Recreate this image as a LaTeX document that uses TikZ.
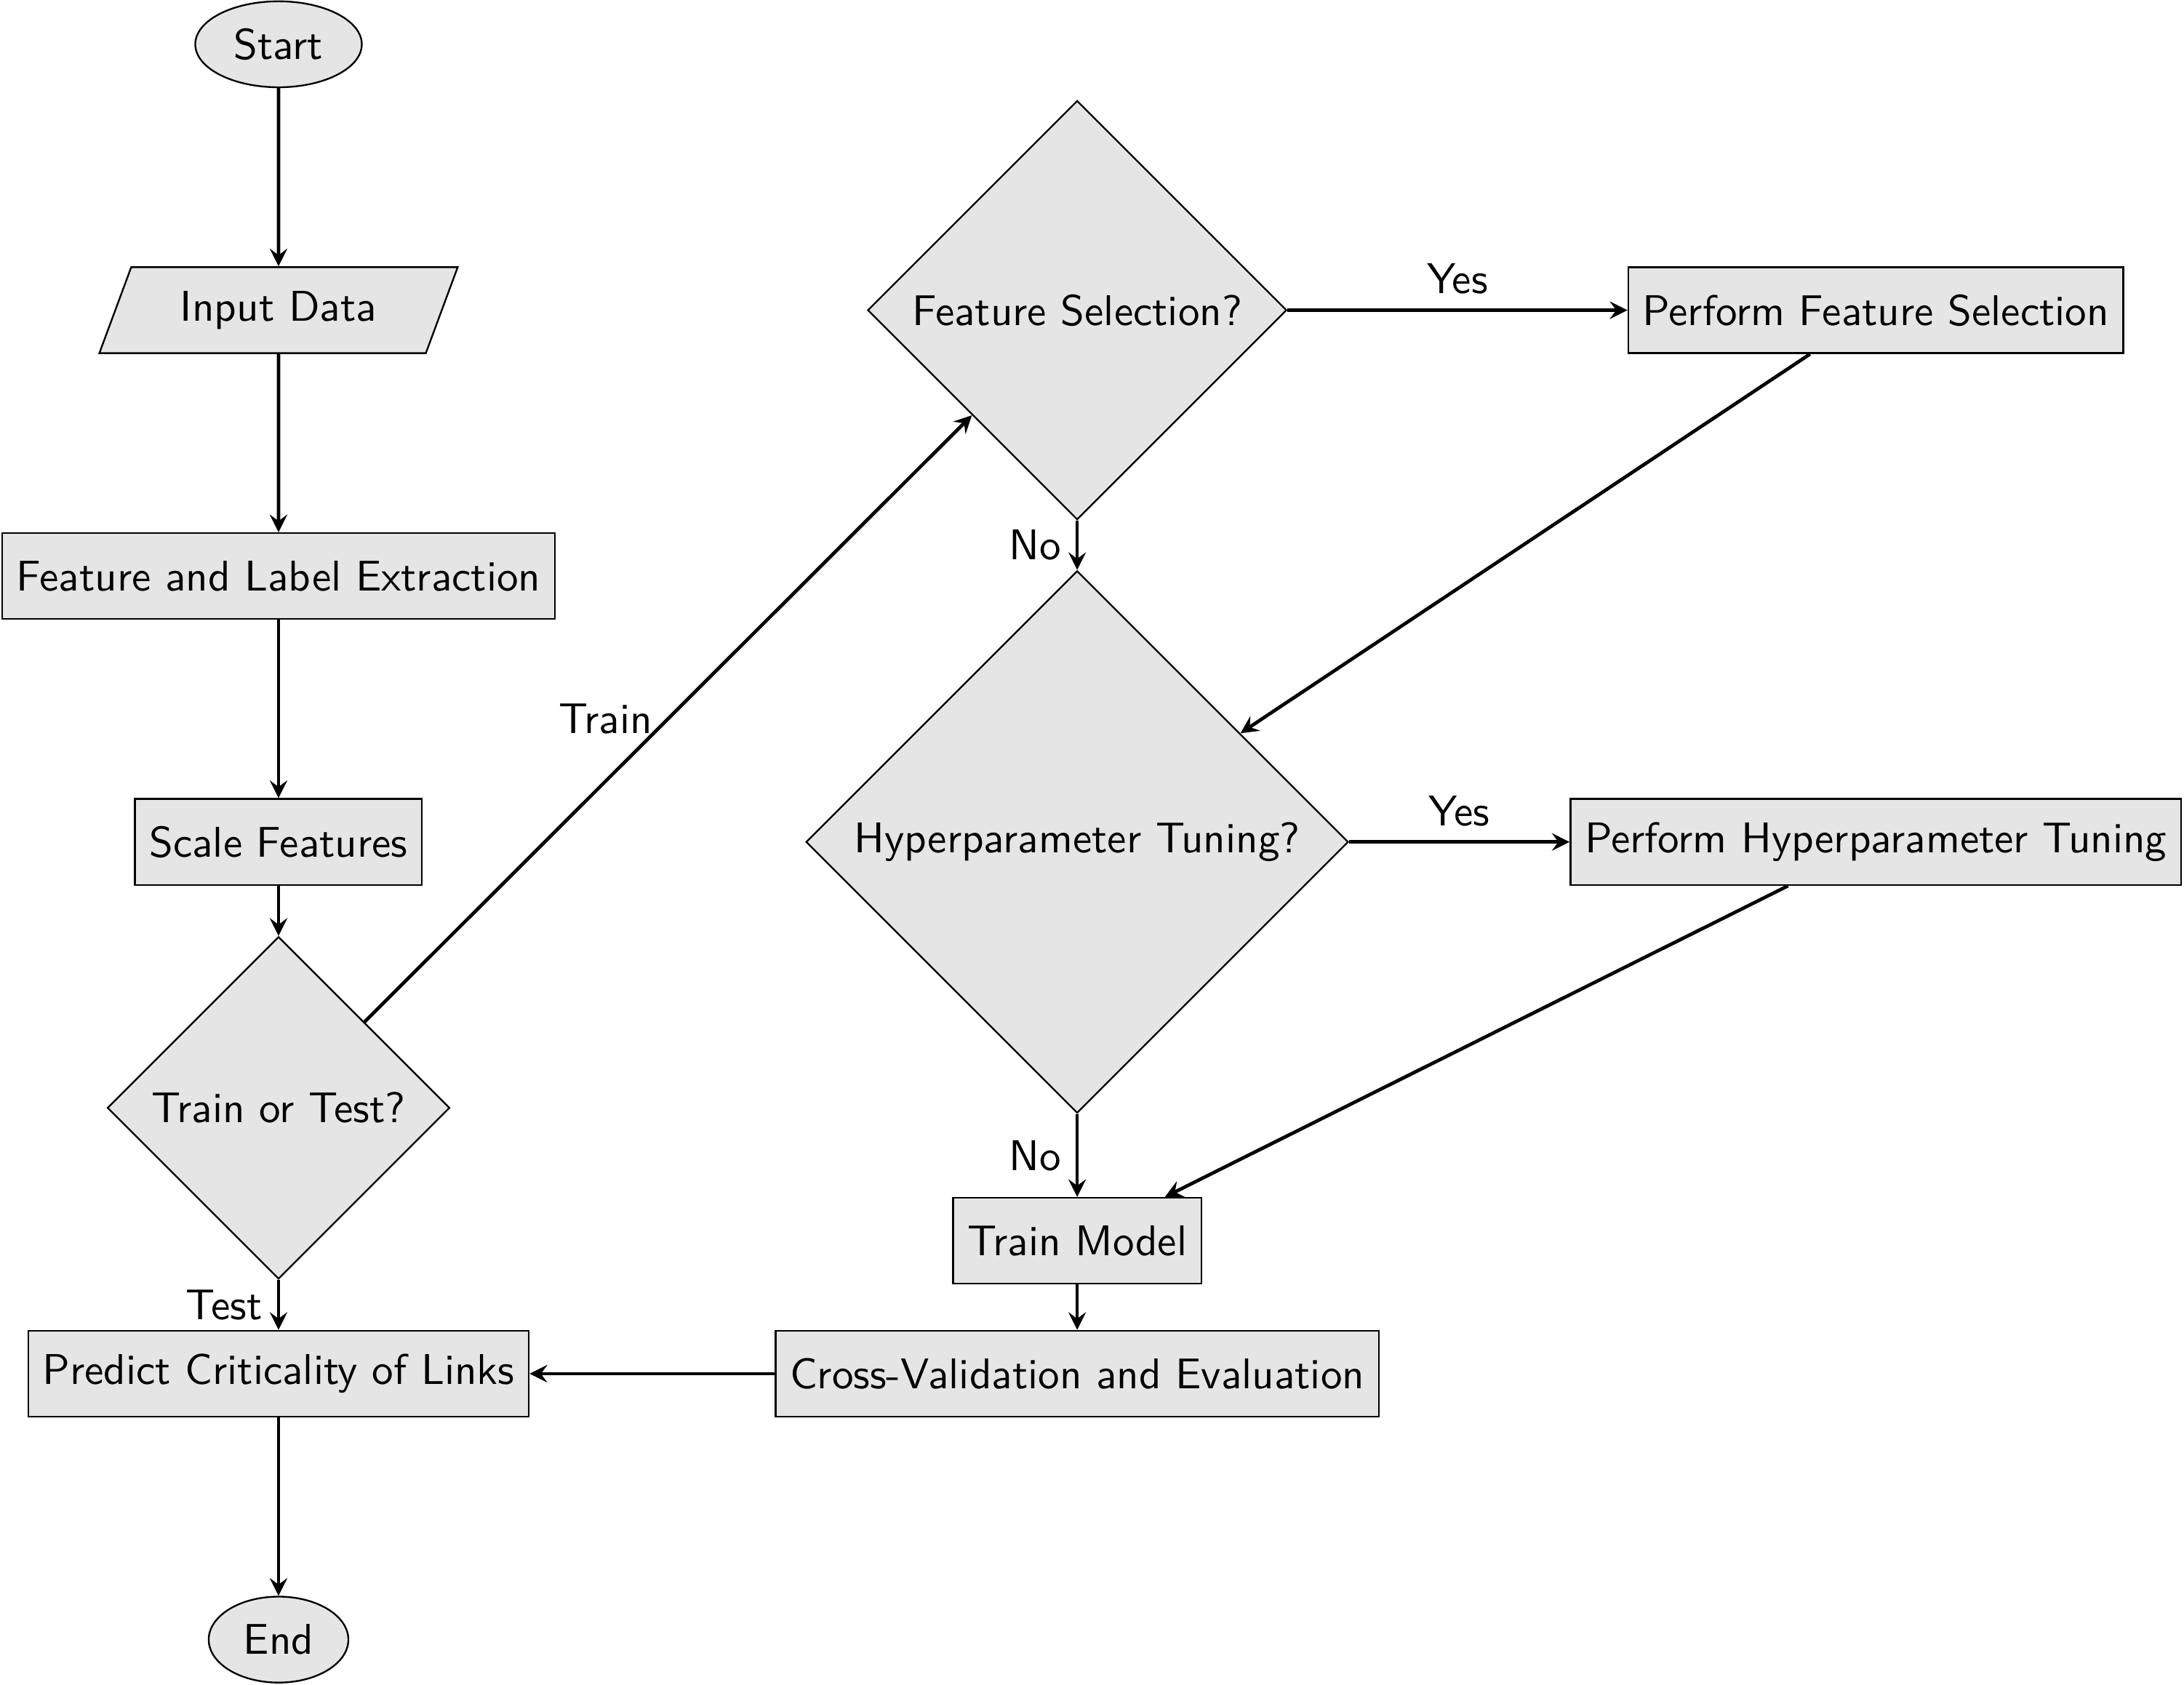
\documentclass[tikz,border=0pt]{standalone}
\usepackage{xcolor}
\usepackage{tikz}
\usetikzlibrary{shapes.geometric}

\begin{document}
\begin{tikzpicture}[x=185.8pt,y=-61.86pt,
	every node/.style={font=\sffamily},
	block/.style={rectangle,draw,fill=gray!20,minimum height=2em},
	term/.style={ellipse,draw,fill=gray!20,minimum height=2em},
	io/.style={trapezium,trapezium left angle=70,trapezium right angle=110,trapezium stretches=true,draw,fill=gray!20,minimum width=83.4pt,minimum height=2em},
	decision/.style={diamond,draw,fill=gray!20,aspect=1},
	line/.style={draw,thick,-stealth}]
	\useasboundingbox (-64.8pt,10.3pt) rectangle (443.3pt,-381.6pt);
	\node[term] (start) at (0,0) {Start};
	\node[io] (input) at (0,1) {Input Data};
	\node[block] (extract) at (0,2) {Feature and Label Extraction};
	\node[block] (scale) at (0,3) {Scale Features};
	\node[decision] (traintest) at (0,4) {Train or Test?};
	\node[block] (predict) at (0,5) {Predict Criticality of Links};
	\node[term] (end) at (0,6) {End};
	\node[decision] (featsel) at (1,1) {Feature Selection?};
	\node[block] (dofeatsel) at (2,1) {Perform Feature Selection};
	\node[decision] (hyper) at (1,3) {Hyperparameter Tuning?};
	\node[block] (dohyper) at (2,3) {Perform Hyperparameter Tuning};
	\node[block] (trainmodel) at (1,4.5) {Train Model};
	\node[block] (crossval) at (1,5) {Cross-Validation and Evaluation};
	\draw[line] (start) -- (input);
	\draw[line] (input) -- (extract);
	\draw[line] (extract) -- (scale);
	\draw[line] (scale) -- (traintest);
	\draw[line] (traintest) -- node[left] {Train} (featsel);
	\draw[line] (traintest) -- node[left] {Test} (predict);
	\draw[line] (featsel) -- node[above] {Yes} (dofeatsel);
	\draw[line] (featsel) -- node[left] {No} (hyper);
	\draw[line] (dofeatsel) -- (hyper);
	\draw[line] (hyper) -- node[above] {Yes} (dohyper);
	\draw[line] (hyper) -- node[left] {No} (trainmodel);
	\draw[line] (dohyper) -- (trainmodel);
	\draw[line] (trainmodel) -- (crossval);
	\draw[line] (crossval) -- (predict);
	\draw[line] (predict) -- (end);
\end{tikzpicture}
\end{document}
